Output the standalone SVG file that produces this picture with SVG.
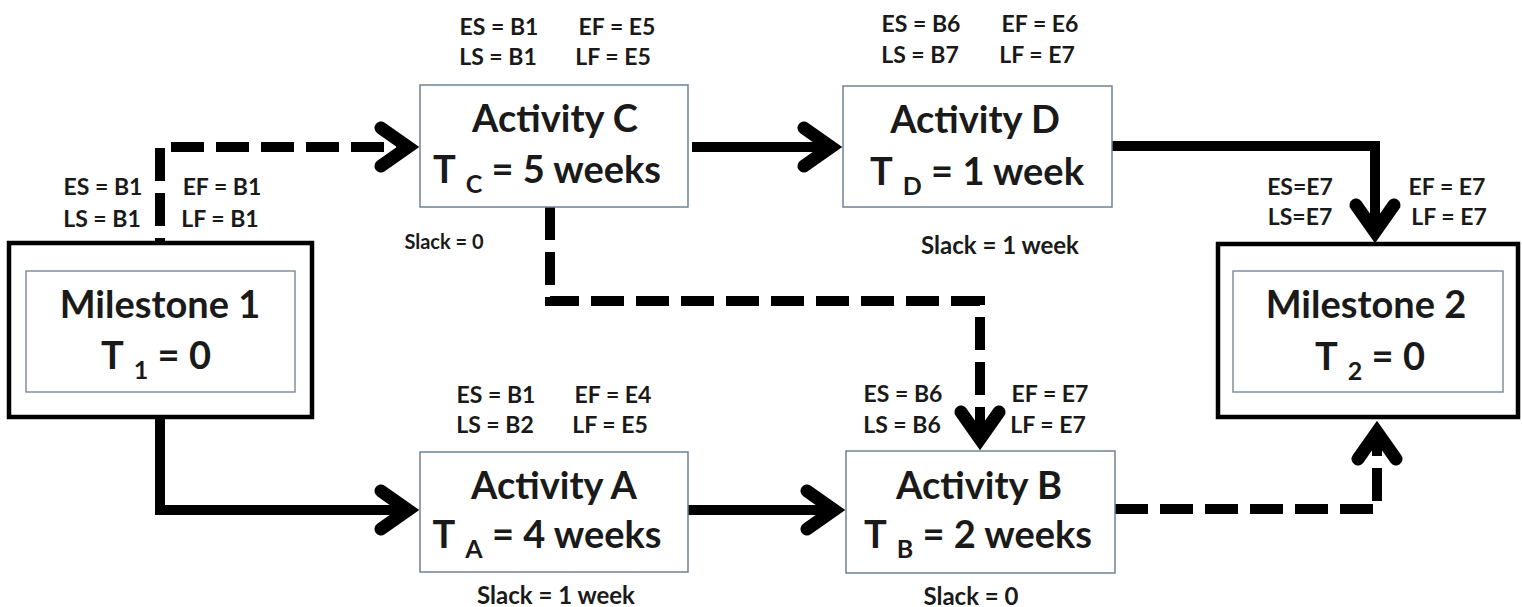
<svg xmlns="http://www.w3.org/2000/svg" width="1522" height="607" viewBox="0 0 1522 607">
<style>
.t{font-family:Lato,"Liberation Sans",sans-serif;font-weight:bold;fill:#1a1a1a;text-anchor:middle}
.s{font-size:23px}
.sl{font-size:24px}
.b{font-size:38px}
.sub{font-size:25px}
.box{fill:#fff;stroke:#6f8294;stroke-width:1.5}
.outer{fill:#fff;stroke:#000;stroke-width:4.5}
.inner{fill:#fff;stroke:#7f8f9e;stroke-width:1.5}
.ln{fill:none;stroke:#000;stroke-width:10;stroke-linejoin:miter;stroke-linecap:butt;marker-end:url(#chev)}
.ds{stroke-dasharray:33 12}
</style>
<defs>
<marker id="chev" markerUnits="userSpaceOnUse" markerWidth="90" markerHeight="90" viewBox="-45 -45 90 90" refX="0" refY="0" orient="auto" overflow="visible">
<path d="M-25,-19 L2,0 L-25,19" fill="none" stroke="#000" stroke-width="13" stroke-linecap="round" stroke-linejoin="miter" stroke-miterlimit="10"/>
</marker>
</defs>
<rect width="1522" height="607" fill="#fff"/>

<g id="connectors">
<path class="ln ds" d="M160,243 V147 H406" stroke-dashoffset="28"/>
<path class="ln" d="M160,417 V510 H406"/>
<path class="ln" d="M692,147 H829"/>
<path class="ln" d="M688,510 H832"/>
<path class="ln" d="M1112,146 H1375 V230"/>
<path class="ln ds" d="M550,207 V301 H980 V437"/>
<path class="ln ds" d="M1115,509 H1377 V434"/>
</g>

<g id="milestone1">
<rect class="outer" x="9" y="243" width="303" height="174"/>
<rect class="inner" x="26" y="271" width="269" height="121"/>
<text class="t b" x="160" y="318">Milestone 1</text>
<text class="t b" x="156" y="369">T<tspan class="sub" dx="10" dy="10">1</tspan><tspan dx="0" dy="-10"> = 0</tspan></text>
<text class="t s" x="103" y="195">ES = B1</text>
<text class="t s" x="222" y="195">EF = B1</text>
<text class="t s" x="102" y="227">LS = B1</text>
<text class="t s" x="220" y="227">LF = B1</text>
</g>

<g id="activityC">
<rect class="box" x="420" y="85" width="268" height="122"/>
<text class="t b" x="555" y="132">Activity C</text>
<text class="t b" x="547" y="183">T<tspan class="sub" dx="10" dy="10">C</tspan><tspan dx="0" dy="-10"> = 5 weeks</tspan></text>
<text class="t s" x="499" y="35">ES = B1</text>
<text class="t s" x="617" y="35">EF = E5</text>
<text class="t s" x="498" y="65">LS = B1</text>
<text class="t s" x="613" y="65">LF = E5</text>
<text class="t" x="444" y="249" font-size="20">Slack = 0</text>
</g>

<g id="activityD">
<rect class="box" x="843" y="86" width="269" height="121"/>
<text class="t b" x="975" y="133">Activity D</text>
<text class="t b" x="977" y="185">T<tspan class="sub" dx="10" dy="10">D</tspan><tspan dx="0" dy="-10"> = 1 week</tspan></text>
<text class="t s" x="921" y="32">ES = B6</text>
<text class="t s" x="1040" y="32">EF = E6</text>
<text class="t s" x="920" y="63">LS = B7</text>
<text class="t s" x="1037" y="63">LF = E7</text>
<text class="t sl" x="1000" y="254">Slack = 1 week</text>
</g>

<g id="activityA">
<rect class="box" x="420" y="452" width="268" height="120"/>
<text class="t b" x="554" y="499">Activity A</text>
<text class="t b" x="547" y="548">T<tspan class="sub" dx="10" dy="10">A</tspan><tspan dx="0" dy="-10"> = 4 weeks</tspan></text>
<text class="t s" x="496" y="403">ES = B1</text>
<text class="t s" x="613" y="403">EF = E4</text>
<text class="t s" x="495" y="433">LS = B2</text>
<text class="t s" x="610" y="433">LF = E5</text>
<text class="t sl" x="556" y="604">Slack = 1 week</text>
</g>

<g id="activityB">
<rect class="box" x="846" y="451" width="269" height="122"/>
<text class="t b" x="979" y="499">Activity B</text>
<text class="t b" x="978" y="548">T<tspan class="sub" dx="10" dy="10">B</tspan><tspan dx="0" dy="-10"> = 2 weeks</tspan></text>
<text class="t s" x="903" y="402">ES = B6</text>
<text class="t s" x="1050" y="402">EF = E7</text>
<text class="t s" x="902" y="433">LS = B6</text>
<text class="t s" x="1048" y="433">LF = E7</text>
<text class="t sl" x="971" y="605">Slack = 0</text>
</g>

<g id="milestone2">
<rect class="outer" x="1218" y="244" width="300" height="173"/>
<rect class="inner" x="1233" y="271" width="270" height="121"/>
<text class="t b" x="1366" y="318">Milestone 2</text>
<text class="t b" x="1370" y="370">T<tspan class="sub" dx="10" dy="10">2</tspan><tspan dx="0" dy="-10"> = 0</tspan></text>
<text class="t s" x="1300" y="195">ES=E7</text>
<text class="t s" x="1447" y="195">EF = E7</text>
<text class="t s" x="1300" y="225">LS=E7</text>
<text class="t s" x="1449" y="225">LF = E7</text>
</g>
</svg>
